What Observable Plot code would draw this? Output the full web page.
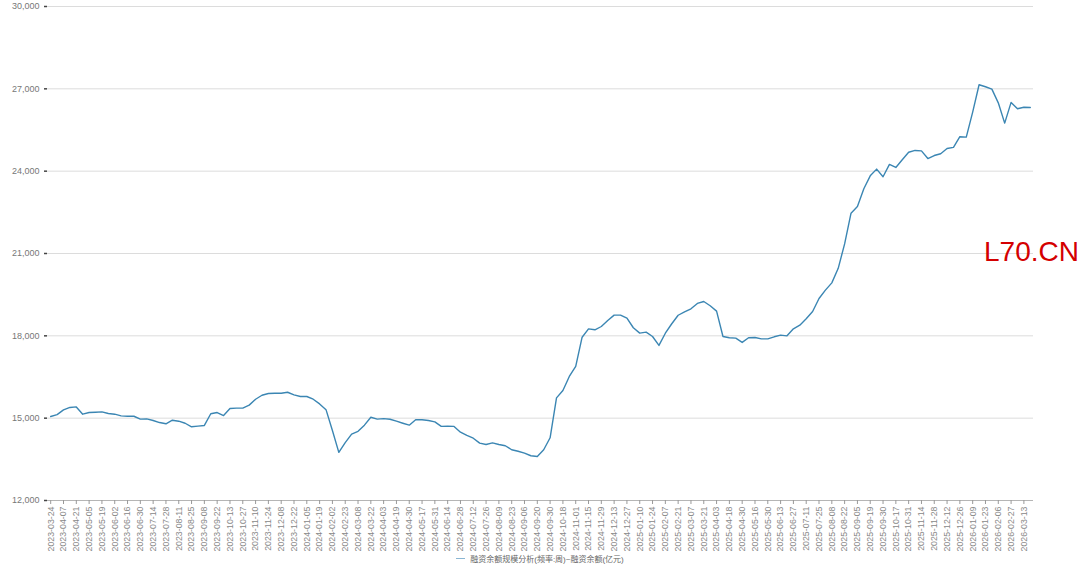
<!DOCTYPE html>
<html>
<head>
<meta charset="utf-8">
<script src="https://cdn.jsdelivr.net/npm/d3@7"></script>
<script src="https://cdn.jsdelivr.net/npm/@observablehq/plot@0.6"></script>
<style>
  html, body { margin: 0; padding: 0; background: #fff; }
  #wrap { position: relative; width: 1080px; height: 568px; overflow: hidden; font-family: "Liberation Sans", "Noto Sans CJK SC", sans-serif; }
  #chart { position: absolute; left: 0; top: 0; }
  #legend { position: absolute; left: 0; top: 553px; width: 1080px; display: flex; justify-content: center; align-items: center; font-size: 8px; color: #666; }
  #legend .sw { display: inline-block; width: 9px; height: 0; border-top: 1px solid #8ab6d3; margin-right: 5px; }
  #wm { position: absolute; left: 984px; top: 236px; font-size: 28px; color: #d40000; font-family: "Liberation Sans", Arial, sans-serif; white-space: nowrap; }
</style>
</head>
<body>
<div id="wrap">
  <div id="chart"></div>
  <div id="legend"><span class="sw"></span><span>融资余额规模分析(频率:周)~融资余额(亿元)</span></div>
  <div id="wm">L70.CN</div>
</div>
<script>
const dates = [
"2023-03-24","2023-03-31","2023-04-07","2023-04-14","2023-04-21","2023-04-28","2023-05-05","2023-05-12",
"2023-05-19","2023-05-26","2023-06-02","2023-06-09","2023-06-16","2023-06-21","2023-06-30","2023-07-07",
"2023-07-14","2023-07-21","2023-07-28","2023-08-04","2023-08-11","2023-08-18","2023-08-25","2023-09-01",
"2023-09-08","2023-09-15","2023-09-22","2023-09-28","2023-10-13","2023-10-20","2023-10-27","2023-11-03",
"2023-11-10","2023-11-17","2023-11-24","2023-12-01","2023-12-08","2023-12-15","2023-12-22","2023-12-29",
"2024-01-05","2024-01-12","2024-01-19","2024-01-26","2024-02-02","2024-02-08","2024-02-23","2024-03-01",
"2024-03-08","2024-03-15","2024-03-22","2024-03-29","2024-04-03","2024-04-12","2024-04-19","2024-04-26",
"2024-04-30","2024-05-10","2024-05-17","2024-05-24","2024-05-31","2024-06-07","2024-06-14","2024-06-21",
"2024-06-28","2024-07-05","2024-07-12","2024-07-19","2024-07-26","2024-08-02","2024-08-09","2024-08-16",
"2024-08-23","2024-08-30","2024-09-06","2024-09-13","2024-09-20","2024-09-27","2024-09-30","2024-10-11",
"2024-10-18","2024-10-25","2024-11-01","2024-11-08","2024-11-15","2024-11-22","2024-11-29","2024-12-06",
"2024-12-13","2024-12-20","2024-12-27","2025-01-03","2025-01-10","2025-01-17","2025-01-24","2025-01-27",
"2025-02-07","2025-02-14","2025-02-21","2025-02-28","2025-03-07","2025-03-14","2025-03-21","2025-03-28",
"2025-04-03","2025-04-11","2025-04-18","2025-04-25","2025-04-30","2025-05-09","2025-05-16","2025-05-23",
"2025-05-30","2025-06-06","2025-06-13","2025-06-20","2025-06-27","2025-07-04","2025-07-11","2025-07-18",
"2025-07-25","2025-08-01","2025-08-08","2025-08-15","2025-08-22","2025-08-29","2025-09-05","2025-09-12",
"2025-09-19","2025-09-26","2025-09-30","2025-10-10","2025-10-17","2025-10-24","2025-10-31","2025-11-07",
"2025-11-14","2025-11-21","2025-11-28","2025-12-05","2025-12-12","2025-12-19","2025-12-26","2025-12-31",
"2026-01-09","2026-01-16","2026-01-23","2026-01-30","2026-02-06","2026-02-13","2026-02-27","2026-03-06",
"2026-03-13","2026-03-20"
];

const values = [
15060,15130,15300,15390,15410,15145,15205,15215,15230,15170,
15145,15085,15070,15070,14965,14975,14915,14840,14795,14925,
14890,14815,14685,14710,14735,15160,15205,15095,15350,15365,
15365,15475,15690,15835,15900,15910,15910,15945,15850,15790,
15790,15690,15520,15310,14550,13755,14110,14420,14520,14745,
15035,14965,14985,14960,14890,14815,14745,14940,14940,14915,
14865,14700,14710,14700,14490,14370,14270,14090,14040,14100,
14040,13995,13850,13795,13725,13630,13605,13850,14285,15740,
16010,16520,16885,17950,18255,18220,18340,18560,18755,18755,
18645,18295,18100,18135,17975,17650,18095,18440,18750,18875,
18985,19180,19250,19095,18900,17975,17930,17915,17760,17930,
17940,17890,17890,17965,18025,18000,18255,18390,18620,18885,
19360,19665,19930,20460,21350,22470,22710,23360,23830,24075,
23795,24245,24135,24415,24690,24755,24740,24460,24570,24635,
24825,24865,25255,25240,26150,27150,27075,26990,26490,25750,
26505,26275,26330,26320
];

// every other category is labelled on the axis
const tickLabels = dates.filter((d, i) => i % 2 === 0);
const yTicks = [12000, 15000, 18000, 21000, 24000, 27000, 30000];

const data = dates.map((d, i) => ({date: d, value: values[i]}));

const chart = Plot.plot({
  width: 1080,
  height: 568,
  marginLeft: 47,
  marginRight: 47,
  marginTop: 6,
  marginBottom: 68,
  style: {fontFamily: "'Liberation Sans', 'Noto Sans CJK SC', sans-serif", fontSize: "9px", background: "transparent", color: "#777"},
  x: {type: "point", domain: dates, padding: 0.5},
  y: {domain: [12000, 30000]},
  marks: [
    Plot.gridY(yTicks, {stroke: "#dcdcdc", strokeOpacity: 1}),
    Plot.axisY(yTicks, {tickSize: 3, tickPadding: 5, stroke: "#444", strokeWidth: 1.5, fill: "#777", tickFormat: d3.format(","), label: null}),
    Plot.ruleY([12000], {stroke: "#b5b5b5"}),
    Plot.axisX(tickLabels, {tickSize: 4, tickPadding: 2, tickRotate: -90, stroke: "#999", fill: "#888", fontSize: 8.8, label: null}),
    Plot.line(data, {x: "date", y: "value", stroke: "#3b86b3", strokeWidth: 1.4})
  ]
});
document.getElementById("chart").appendChild(chart);
</script>
</body>
</html>
